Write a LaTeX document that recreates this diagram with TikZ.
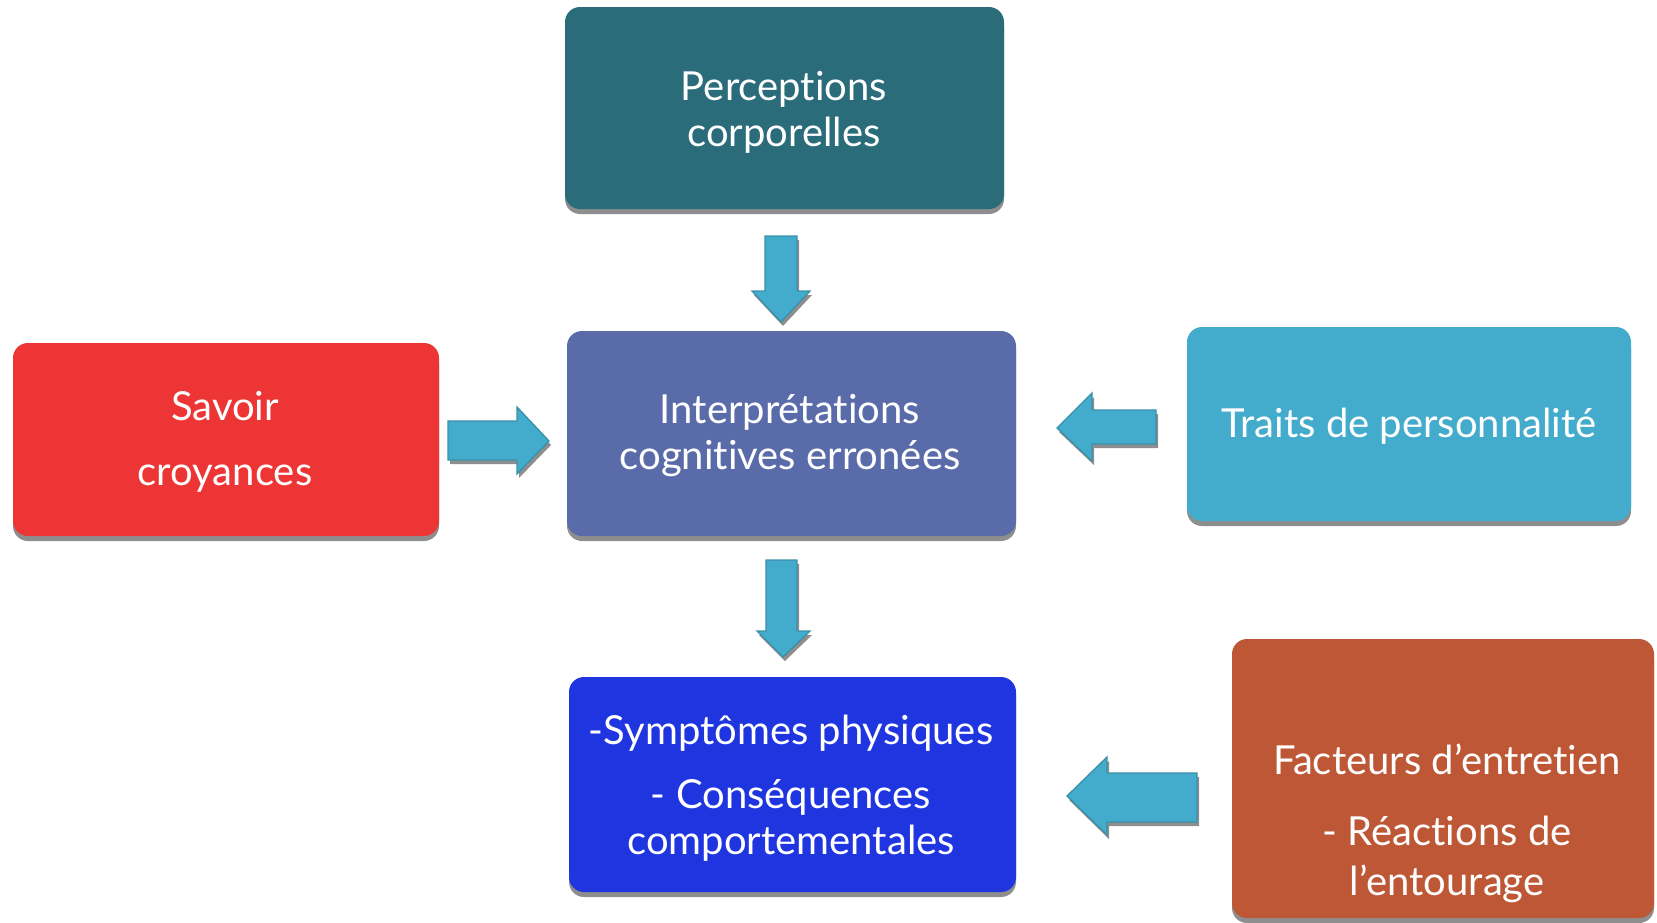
\documentclass[tikz,border=0pt]{standalone}
\usepackage{fontspec}
\setmainfont{Lato}[Ligatures=NoCommon]
\usetikzlibrary{shadows}
\definecolor{cteal}{HTML}{2B6C7B}
\definecolor{cinterp}{HTML}{5A6BAA}
\definecolor{cred}{HTML}{EE3535}
\definecolor{ctraits}{HTML}{43ABCC}
\definecolor{csympt}{HTML}{1F35DF}
\definecolor{cfact}{HTML}{BE5735}
\definecolor{carrow}{HTML}{43ABCC}
\definecolor{cedge}{HTML}{3A90A8}
\definecolor{cshadow}{HTML}{8E8E8E}
\tikzset{
  box/.style={rounded corners=15pt, inner sep=0pt, draw=none,
    drop shadow={shadow xshift=0pt, shadow yshift=-5pt, opacity=1, fill=cshadow}},
  lbl/.style={text=white, align=center, inner sep=0pt, font=\fontsize{40}{46}\selectfont},
  barrow/.style={fill=carrow, draw=cedge, line width=1.3pt, line join=miter,
    preaction={fill=cshadow, transform canvas={shift={(2pt,-4pt)}}}}
}
\begin{document}
\begin{tikzpicture}[x=1pt,y=-1pt]
\useasboundingbox (0,0) rectangle (1657,922);
% boxes
\path[box, fill=cteal]   (565,7) rectangle (1004,209) node[pos=.5](perc){};
\path[box, fill=cinterp] (567,331) rectangle (1016,536) node[pos=.5](interp){};
\path[box, fill=cred]    (13,343) rectangle (439,536) node[pos=.5](savoir){};
\path[box, fill=ctraits] (1187,327) rectangle (1631,521) node[pos=.5](traits){};
\path[box, fill=csympt]  (569,677) rectangle (1016,892) node[pos=.5](sympt){};
\path[box, fill=cfact]   (1232,639) rectangle (1654,918) node[pos=.5](fact){};
% texts
\node[lbl] (tperc) at (784,112) {Perceptions\\corporelles};
\node[lbl] (tinterp) at (790,436) {Interprétations\\cognitives erronées};
\node[lbl] (tsavoir) at (225,442) {Savoir\\[19pt]croyances};
\node[lbl] (ttraits) at (1409,426) {Traits de personnalité};
\node[lbl] (tsympt) at (791,788) {-Symptômes physiques\\[18pt]- Conséquences\\comportementales};
\node[lbl] (tfact) at (1447,823) {Facteurs d’entretien\\[25pt]- Réactions de\\[4pt]l’entourage};
% block arrows
\coordinate (a1) at (781,236);
\draw[barrow] (a1) ++(-16,0) -- ++(32,0) -- ++(0,55) -- ++(13,0) -- (781,322) -- (752,291) -- (765,291) -- cycle;
\coordinate (a2) at (782,560);
\draw[barrow] (a2) ++(-16,0) -- ++(31,0) -- ++(0,71) -- ++(13,0) -- (783,657) -- (757,631) -- (766,631) -- cycle;
\coordinate (a3) at (448,421);
\draw[barrow] (a3) -- (517,421) -- (517,407) -- (549,441) -- (517,474) -- (517,460) -- (448,460) -- cycle;
\coordinate (a4) at (1156,410);
\draw[barrow] (a4) -- (1092,410) -- (1092,393) -- (1057,428) -- (1092,461) -- (1092,444) -- (1156,444) -- cycle;
\coordinate (a5) at (1197,773);
\draw[barrow] (a5) -- (1107,773) -- (1107,757) -- (1067,796) -- (1107,835) -- (1107,822) -- (1197,822) -- cycle;
\end{tikzpicture}
\end{document}
